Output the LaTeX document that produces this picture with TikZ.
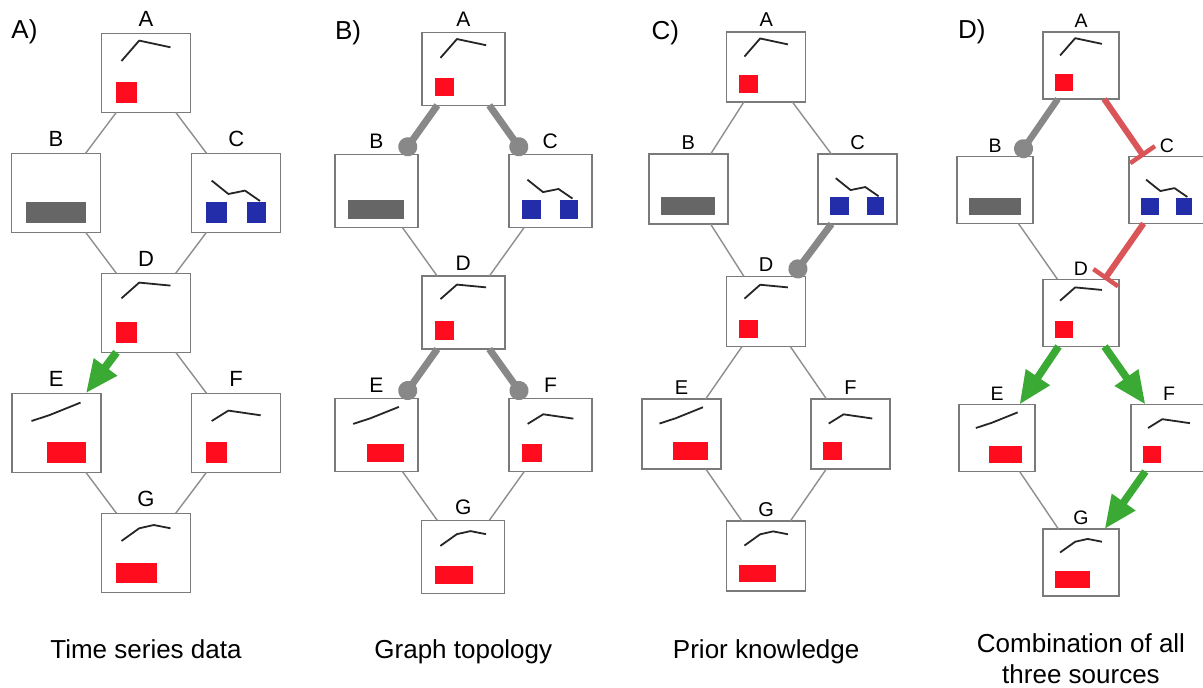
\documentclass[tikz,border=0pt]{standalone}
\usepackage{fontspec}
\setmainfont{Liberation Sans}
\usetikzlibrary{arrows.meta}

\definecolor{boxgray}{HTML}{7A7A7A}
\definecolor{linkgray}{HTML}{8E8E8E}
\definecolor{knowgray}{HTML}{888888}
\definecolor{sigred}{HTML}{FF0C1E}
\definecolor{sigblue}{HTML}{232DAA}
\definecolor{barfill}{HTML}{666666}
\definecolor{actgreen}{HTML}{3AAA35}
\definecolor{inhred}{HTML}{DA5558}

\tikzset{
  every node/.style={inner sep=0pt, outer sep=0pt},
  gbox/.style={draw=boxgray, line width=1.5pt, fill=white, rectangle},
  spark/.style={draw=black!85, line width=1.8pt, line join=round},
  thin/.style={draw=linkgray, line width=1.4pt},
  known/.style={draw=knowgray, line width=7pt, -{Circle[length=19pt,width=19pt]}},
  act/.style={draw=actgreen, line width=8pt, -{Triangle[length=33pt,width=27pt]}},
  inh/.style={draw=inhred, line width=6pt, -{Bar[width=30pt,line width=4.5pt]}},
  plabel/.style={font=\fontsize{26}{26}\selectfont, anchor=base west},
  caption/.style={font=\fontsize{26}{26}\selectfont, anchor=base}
}

% small time courses and bars inside a node, in a 89 x 79 frame
\newcommand\glyphA{%
  \draw[spark] (20,27.7) -- (37.7,7.3) -- (69,14);
  \fill[sigred] (14.3,49) rectangle (35,69.3);}
\newcommand\glyphB{%
  \fill[barfill] (14.3,49) rectangle (74.7,69.3);}
\newcommand\glyphC{%
  \draw[spark] (20,27.3) -- (36.7,40.7) -- (53.3,37.3) -- (68.3,47.7);
  \fill[sigblue] (14,49) rectangle (35,69.3);
  \fill[sigblue] (55,49) rectangle (74.3,69.3);}
\newcommand\glyphD{%
  \draw[spark] (20,25) -- (37.7,9.3) -- (69,12.3);
  \fill[sigred] (14.3,49) rectangle (35,69.3);}
\newcommand\glyphE{%
  \draw[spark] (19.7,27.7) -- (38,21.7) -- (68.7,9.3);
  \fill[sigred] (34.7,49) rectangle (74.3,69.3);}
\newcommand\glyphF{%
  \draw[spark] (20,27.7) -- (36.7,17.3) -- (69,22);
  \fill[sigred] (14,49) rectangle (35,69.3);}
\newcommand\glyphG{%
  \draw[spark] (20,27.7) -- (37.7,15) -- (52.3,11.7) -- (69,15);
  \fill[sigred] (14.3,49.3) rectangle (55,69.3);}

% one gene node: name, x, y, letter (uses \cw, \ch, \lsize, \lgap)
\newcommand\cell[4]{%
  \node[gbox, minimum width=\cw pt, minimum height=\ch pt] (#1) at (#2,#3) {};
  \begin{scope}[shift={(#1.north west)}, xscale=\cw/89, yscale=\ch/79]
    \csname glyph#4\endcsname
  \end{scope}
  \node[font=\fontsize{\lsize}{\lsize}\selectfont, anchor=base, yshift=\lgap pt] (#1l) at (#1.north) {#4};
}

\begin{document}
\begin{tikzpicture}[x=1pt, y=-1pt]
\fill[white] (0,0) rectangle (1203,688);
\path[use as bounding box] (0,0) rectangle (1203,688);

% ---------- A) time series data ----------
\def\cw{89}\def\ch{79}\def\lsize{22}\def\lgap{6.5}
\cell{aA}{146}{72.8}{A}
\cell{aB}{56}{192.8}{B}
\cell{aC}{236.2}{192.8}{C}
\cell{aD}{146}{312.8}{D}
\cell{aE}{56.3}{432.8}{E}
\cell{aF}{236.2}{432.8}{F}
\cell{aG}{146}{552.8}{G}
\draw[thin] (aA) -- (aB);
\draw[thin] (aA) -- (aC);
\draw[thin] (aB) -- (aD);
\draw[thin] (aC) -- (aD);
\draw[thin] (aD) -- (aF);
\draw[thin] (aE) -- (aG);
\draw[thin] (aF) -- (aG);
\draw[act] (aD) -- (aE);
\node[plabel] (pA) at (11.5,38) {A)};
\node[caption] (capA) at (146,658) {Time series data};

% ---------- B) graph topology ----------
\def\cw{83}\def\ch{73}\def\lsize{21}\def\lgap{6}
\cell{bA}{463.3}{68.8}{A}
\cell{bB}{376.3}{191}{B}
\cell{bC}{550.3}{191}{C}
\cell{bD}{463.3}{312.5}{D}
\cell{bE}{376.3}{434.8}{E}
\cell{bF}{550.5}{434.8}{F}
\cell{bG}{463.2}{556.8}{G}
\draw[thin] (bB) -- (bD);
\draw[thin] (bC) -- (bD);
\draw[thin] (bE) -- (bG);
\draw[thin] (bF) -- (bG);
\draw[known] (bA) -- (bB);
\draw[known] (bA) -- (bC);
\draw[known] (bD) -- (bE);
\draw[known] (bD) -- (bF);
\node[plabel] (pB) at (335,39) {B)};
\node[caption] (capB) at (463.3,658) {Graph topology};

% ---------- C) prior knowledge ----------
\def\cw{79}\def\ch{70}\def\lsize{20}\def\lgap{5}
\cell{cA}{766.2}{67}{A}
\cell{cB}{688.3}{189}{B}
\cell{cC}{857.5}{189}{C}
\cell{cD}{766.2}{311.5}{D}
\cell{cE}{681.5}{434}{E}
\cell{cF}{850.5}{434}{F}
\cell{cG}{766.2}{556}{G}
\draw[thin] (cA) -- (cB);
\draw[thin] (cA) -- (cC);
\draw[thin] (cB) -- (cD);
\draw[thin] (cD) -- (cE);
\draw[thin] (cD) -- (cF);
\draw[thin] (cE) -- (cG);
\draw[thin] (cF) -- (cG);
\draw[known] (cC) -- (cD);
\node[plabel] (pC) at (651.5,39.5) {C)};
\node[caption] (capC) at (766.2,658) {Prior knowledge};

% ---------- D) combination of all sources ----------
\def\cw{76}\def\ch{67}\def\lsize{19.5}\def\lgap{4.5}
\cell{dA}{1081}{65.5}{A}
\cell{dB}{995}{190}{B}
\cell{dC}{1167}{190}{C}
\cell{dD}{1081}{313}{D}
\cell{dE}{997}{438}{E}
\cell{dF}{1169}{438}{F}
\cell{dG}{1081}{562.5}{G}
\draw[thin] (dB) -- (dD);
\draw[thin] (dE) -- (dG);
\draw[known, line width=6.5pt] (dA) -- (dB);
\draw[inh] (dA) -- (dC);
\draw[inh] (dC) -- (dD);
\draw[act, line width=7.5pt] (dD) -- (dE);
\draw[act, line width=7.5pt] (dD) -- (dF);
\draw[act, line width=7.5pt] (dF) -- (dG);
\node[plabel] (pD) at (958,38.5) {D)};
\node[caption] (capD1) at (1081,652) {Combination of all};
\node[caption] (capD2) at (1081,683) {three sources};
\end{tikzpicture}
\end{document}
